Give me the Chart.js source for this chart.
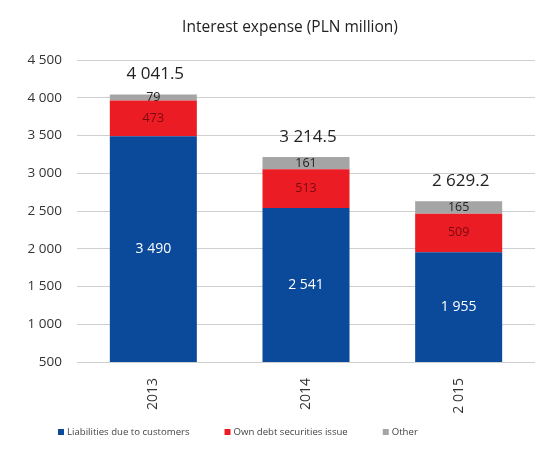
<!DOCTYPE html>
<html lang="en">
<head>
  <meta charset="utf-8">
  <title>Interest expense</title>
  <script src="https://cdn.jsdelivr.net/npm/chart.js"></script>
  <style>
    html, body { margin: 0; padding: 0; background: #fff; }
    #wrap { width: 542px; height: 454px; }
  </style>
</head>
<body>
  <div id="wrap"><canvas id="myChart"></canvas></div>
  <script>
    var years = ['2013', '2014', '2 015'];
    var customers = [3490, 2541, 1955];
    var ownDebt = [473, 513, 509];
    var other = [79, 161, 165];
    var totals = ['4 041.5', '3 214.5', '2 629.2'];
    var yTicks = [500, 1000, 1500, 2000, 2500, 3000, 3500, 4000, 4500];
    var chartTitle = 'Interest expense (PLN million)';

    function spaced(n) {
      return String(n).replace(/\B(?=(\d{3})+(?!\d))/g, ' ');
    }

    // labels inside the segments, totals above each bar, title and legend
    var barLabels = {
      id: 'barLabels',
      afterDatasetsDraw: function (chart) {
        var ctx = chart.ctx;
        var yScale = chart.scales.y;
        var area = chart.chartArea;
        ctx.save();
        ctx.textAlign = 'center';
        ctx.textBaseline = 'middle';
        var styles = [
          { color: '#ffffff', font: '14px "Open Sans"' },
          { color: '#7a0a10', font: '12.5px "Open Sans"' },
          { color: '#222222', font: '12.5px "Open Sans"' }
        ];
        chart.data.datasets.forEach(function (ds, i) {
          var meta = chart.getDatasetMeta(i);
          meta.data.forEach(function (bar, j) {
            var top = bar.y;
            var bottom = Math.min(bar.base, yScale.bottom);
            ctx.fillStyle = styles[i].color;
            ctx.font = styles[i].font;
            ctx.fillText(spaced(ds.data[j]), bar.x, (top + bottom) / 2);
          });
        });
        var last = chart.getDatasetMeta(chart.data.datasets.length - 1);
        ctx.fillStyle = '#222222';
        ctx.font = '17px "Open Sans"';
        last.data.forEach(function (bar, j) {
          ctx.fillText(totals[j], bar.x + 2, bar.y - 20);
        });

        // title
        ctx.font = '15.5px "Open Sans"';
        ctx.fillStyle = '#222222';
        ctx.fillText(chartTitle, (area.left + area.right) / 2 - 16, 28);

        // legend
        ctx.textAlign = 'left';
        ctx.font = '9.6px "Open Sans"';
        var x = 58, y = 432;
        chart.data.datasets.forEach(function (ds) {
          ctx.fillStyle = ds.backgroundColor;
          ctx.fillRect(x, y - 3, 6, 6);
          ctx.fillStyle = '#444444';
          ctx.fillText(ds.label, x + 9, y);
          x += 9 + ctx.measureText(ds.label).width + 35;
        });
        ctx.restore();
      }
    };

    var ctx = document.getElementById('myChart').getContext('2d');
    var myChart = new Chart(ctx, {
      type: 'bar',
      data: {
        labels: years,
        datasets: [{
          label: 'Liabilities due to customers',
          data: customers,
          backgroundColor: '#0b4a9b'
        }, {
          label: 'Own debt securities issue',
          data: ownDebt,
          backgroundColor: '#ec1c24'
        }, {
          label: 'Other',
          data: other,
          backgroundColor: '#a5a5a5'
        }]
      },
      plugins: [barLabels],
      options: {
        responsive: true,
        maintainAspectRatio: false,
        animation: false,
        layout: { padding: { left: 0, right: 7, top: 60, bottom: 30 } },
        datasets: { bar: { barPercentage: 0.57, categoryPercentage: 1 } },
        plugins: {
          legend: { display: false },
          tooltip: { enabled: false }
        },
        scales: {
          x: {
            stacked: true,
            grid: { display: false },
            border: { display: false },
            ticks: {
              color: '#333',
              font: { family: 'Open Sans', size: 14 },
              padding: 8,
              maxRotation: 90,
              minRotation: 90
            },
            afterFit: function (s) { s.height = 62; }
          },
          y: {
            stacked: true,
            min: 500,
            max: 4500,
            afterBuildTicks: function (s) {
              s.ticks = yTicks.map(function (v) { return { value: v }; });
            },
            grid: { color: '#cfcfcf', drawTicks: false },
            border: { display: false },
            ticks: {
              color: '#333',
              font: { family: 'Open Sans', size: 13.5 },
              padding: 15,
              callback: function (v) { return spaced(v); }
            },
            afterFit: function (s) { s.width = 77; }
          }
        }
      }
    });
  </script>
</body>
</html>
